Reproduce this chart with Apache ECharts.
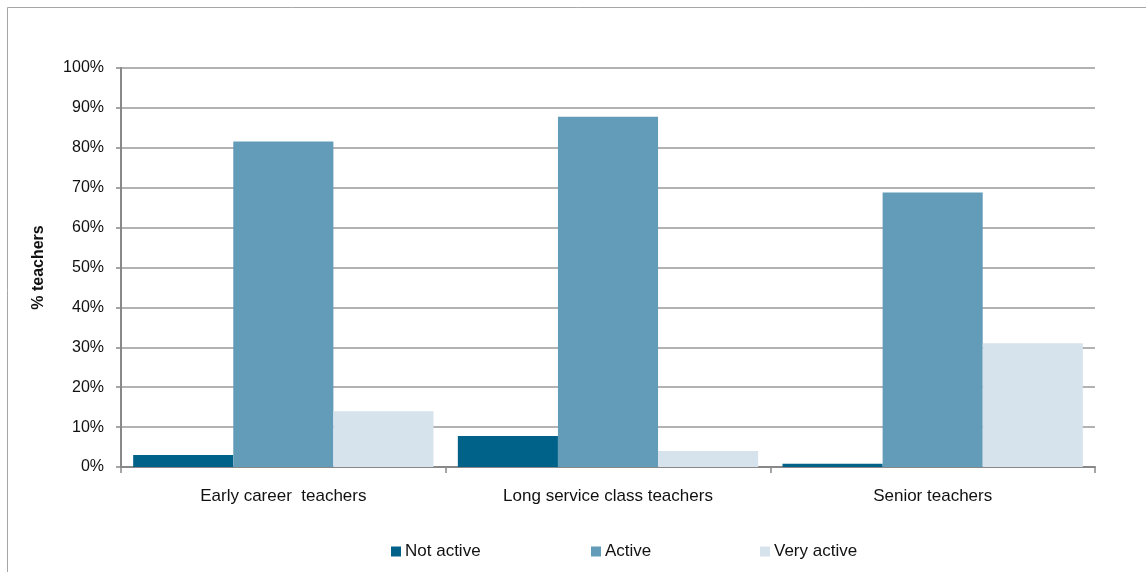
<!DOCTYPE html>
<html><head><meta charset="utf-8">
<script src="https://cdn.jsdelivr.net/npm/echarts@6/dist/echarts.min.js"></script>
<style>html,body{margin:0;padding:0;background:#fff}#c{width:1146px;height:572px}</style>
</head><body><div id="c"></div>
<script>
const categories = ['Early career  teachers', 'Long service class teachers', 'Senior teachers'];
const notActive = [3.0, 7.8, 0.8];
const active = [81.6, 87.8, 68.8];
const veryActive = [14.0, 4.0, 31.0];
const yTicks = [0, 10, 20, 30, 40, 50, 60, 70, 80, 90, 100];

const font = 'Liberation Sans, Arial, sans-serif';
const chart = echarts.init(document.getElementById('c'));
const legendBase = {orient:'horizontal', top: 538, itemWidth: 10, itemHeight: 10, itemGap: 4,
  textStyle:{fontFamily:font, fontSize:17, color:'#111', padding:[0,0,0,-1]}, icon:'rect', selectedMode:false};
chart.setOption({
  animation:false,
  graphic:[{type:'rect', shape:{x:7.5,y:7.5,width:1160,height:600}, style:{fill:'none', stroke:'#a6a6a6', lineWidth:1}}],
  legend:[
    Object.assign({}, legendBase, {left:386, data:['Not active']}),
    Object.assign({}, legendBase, {left:586, data:['Active']}),
    Object.assign({}, legendBase, {left:755, data:['Very active']})
  ],
  grid:{left:121, right:51, top:68, bottom:105},
  xAxis:{type:'category', data:categories,
    axisLine:{lineStyle:{color:'#888', width:2}},
    axisTick:{show:true, length:6, lineStyle:{color:'#888', width:1.5}},
    axisLabel:{fontFamily:font, fontSize:17, color:'#111', margin:21}},
  yAxis:{type:'value', min:0, max:100, interval:10,
    axisLine:{show:true, lineStyle:{color:'#888', width:2}},
    axisTick:{show:true, length:5, lineStyle:{color:'#888', width:1.5}},
    splitLine:{lineStyle:{color:'#999', width:1.5}},
    axisLabel:{fontFamily:font, fontSize:16, color:'#111', margin:17,
      formatter: v => yTicks.includes(v) ? v + '%' : ''},
    name:'% teachers', nameLocation:'middle', nameGap:74, nameRotate:90,
    nameTextStyle:{fontFamily:font, fontSize:16, fontWeight:'bold', color:'#111'}},
  series:[
    {name:'Not active', type:'bar', data:notActive, itemStyle:{color:'#006289'}, barGap:'0%', barCategoryGap:'7.5%'},
    {name:'Active', type:'bar', data:active, itemStyle:{color:'#629CB8'}, barGap:'0%', barCategoryGap:'7.5%'},
    {name:'Very active', type:'bar', data:veryActive, itemStyle:{color:'#D6E2EC'}, barGap:'0%', barCategoryGap:'7.5%'}
  ]
});
</script></body></html>
